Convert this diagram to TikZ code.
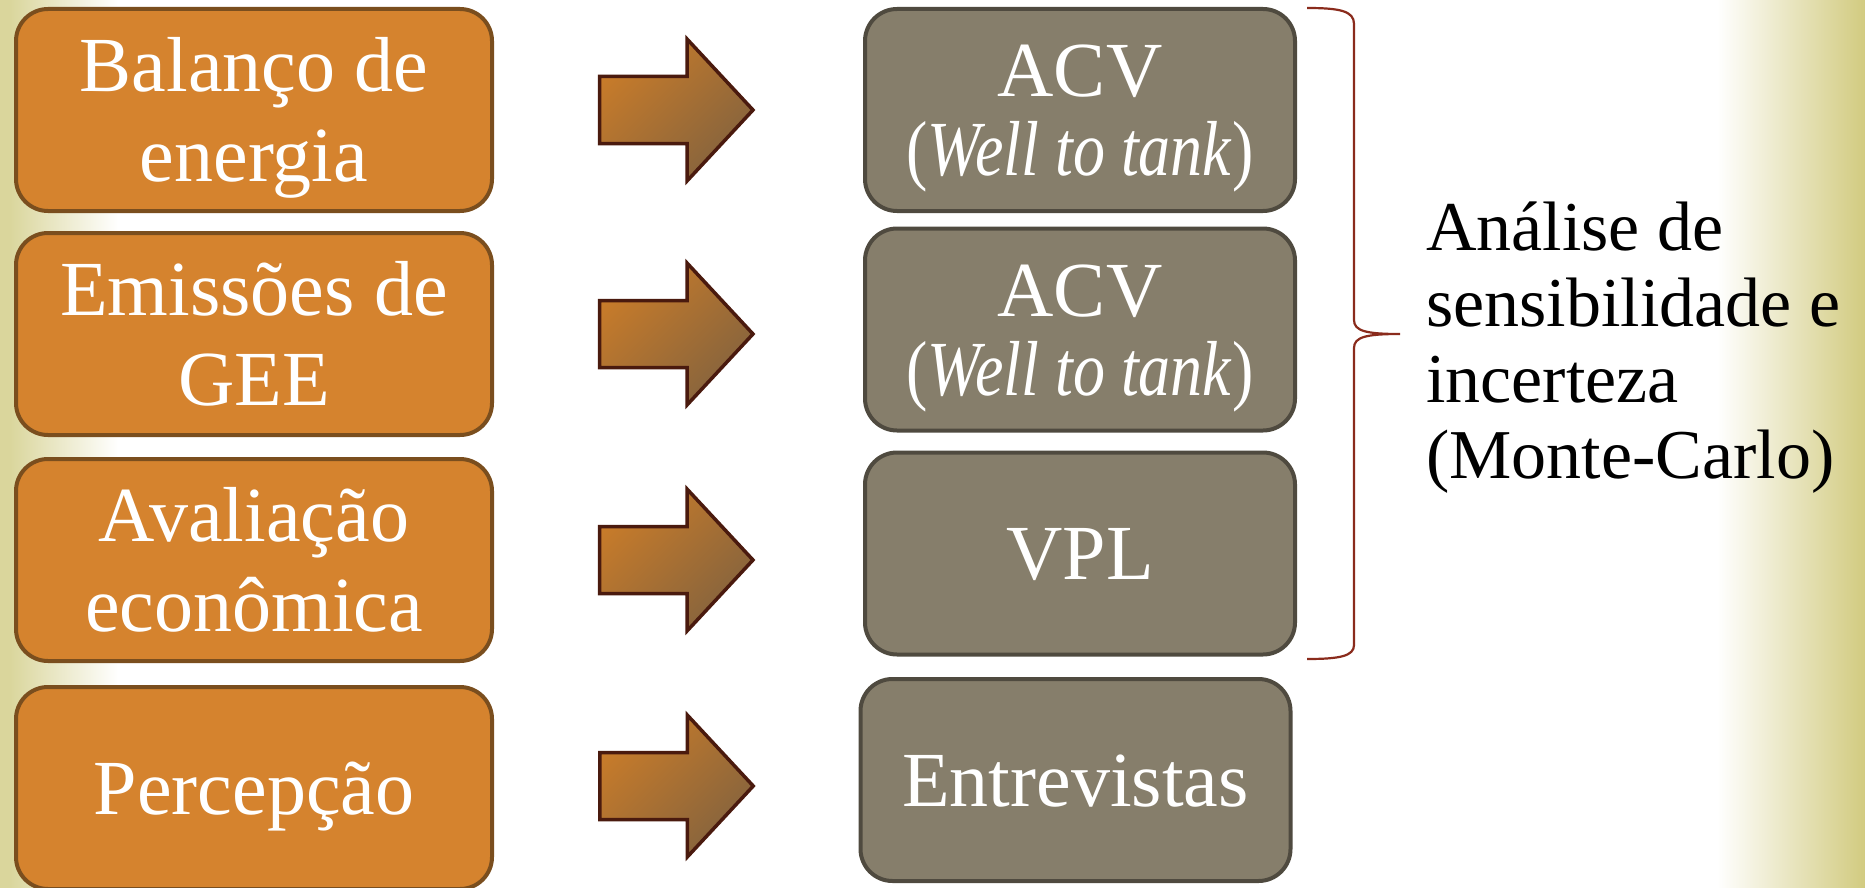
\documentclass[tikz,border=0pt]{standalone}
\usepackage{fontspec}
\setmainfont{Liberation Serif}
\usetikzlibrary{calc}
\definecolor{ofill}{HTML}{D5832E}
\definecolor{obrd}{HTML}{7A4E1E}
\definecolor{gfill}{HTML}{867E6B}
\definecolor{gbrd}{HTML}{4F4A3F}
\definecolor{arA}{HTML}{C77B2A}
\definecolor{arB}{HTML}{9E5F20}
\definecolor{arC}{HTML}{84633E}
\definecolor{arbrd}{HTML}{4A1A0E}
\definecolor{bracec}{HTML}{8A2B1C}
\definecolor{khL}{HTML}{DAD69C}
\definecolor{khR}{HTML}{D2CB80}
\begin{document}
\begin{tikzpicture}[x=1pt,y=-1pt,
  box/.style={rounded corners=32pt, line width=4pt, text=white, align=center,
    minimum width=476pt, minimum height=202pt, inner sep=0pt,
    font=\fontsize{78}{90}\selectfont},
  obox/.style={box, draw=obrd, fill=ofill},
  gbox/.style={box, draw=gbrd, fill=gfill, minimum width=430pt,
    font=\fontsize{78}{79}\selectfont},
  oneline/.style={text height=52pt, text depth=0pt},
  twoline/.style={text height=142pt, text depth=0pt},
  twolineg/.style={text height=131pt, text depth=0pt},
  blockarrow/.pic={\draw[line width=3.5pt, draw=arbrd, line join=miter,
      top color=arA, middle color=arB, bottom color=arC, shading angle=45]
      (-77.5,-33.5) -- (10,-33.5) -- (10,-71) -- (76,0) -- (10,71) -- (10,33.5)
      -- (-77.5,33.5) -- cycle;},
  senstext/.style={align=left, anchor=west, inner sep=0pt,
    font=\fontsize{70}{76}\selectfont, text=black,
    text height=275pt, text depth=0pt},
  bracestyle/.style={draw=bracec, line width=2.2pt}
]
\useasboundingbox (0,0) rectangle (1865,888);
\fill[white] (0,0) rectangle (1865,888);
% background strips
\fill[khL] (0,0) rectangle (10.5,888);
\shade[left color=khL, right color=white] (10,0) rectangle (118,888);
\shade[left color=white, right color=khR] (1717,0) rectangle (1865,888);

% left boxes
\node[obox, twoline] (o1) at (254,110) {Balanço de\\energia};
\node[obox, twoline] (o2) at (254,334) {Emissões de\\GEE};
\node[obox, twoline] (o3) at (254,560) {Avaliação\\econômica};
\node[obox, oneline] (o4) at (254,788) {Percepção};

% right boxes
\node[gbox, twolineg] (g1) at (1080,110) {ACV\\\scalebox{0.82}[1]{(\textit{Well to tank})}};
\node[gbox, twolineg] (g2) at (1080,329.5) {ACV\\\scalebox{0.82}[1]{(\textit{Well to tank})}};
\node[gbox, oneline] (g3) at (1080,553.5) {VPL};
\node[gbox, oneline] (g4) at (1075.5,780) {Entrevistas};

% block arrows
\path ($(o1.east -| g1.west)!0.5!(o1.east)+(-1.5,0)$) pic {blockarrow};
\path ($(o2.east -| g2.west)!0.5!(o2.east)+(-1.5,0)$) pic {blockarrow};
\path ($(o3.east -| g3.west)!0.5!(o3.east)+(-1.5,0)$) pic {blockarrow};
\path ($(o4.east -| g4.west)!0.5!(o4.east)+(1,-2)$) pic {blockarrow};

% brace
\coordinate (bt) at (1307,8);
\coordinate (bb) at (1307,659);
\coordinate (btip) at (1400,334);
\draw[bracestyle] (bt) .. controls (1340,8) and (1354,11) .. (1354,24)
  -- (1354,320) .. controls (1354,331) and (1366,334) .. (btip)
  .. controls (1366,334) and (1354,337) .. (1354,348)
  -- (1354,645) .. controls (1354,656) and (1340,659) .. (bb);

% right text
\node[senstext] (sens) at (1426,340.5) {Análise de\\sensibilidade e\\incerteza\\(Monte-Carlo)};
\end{tikzpicture}
\end{document}
